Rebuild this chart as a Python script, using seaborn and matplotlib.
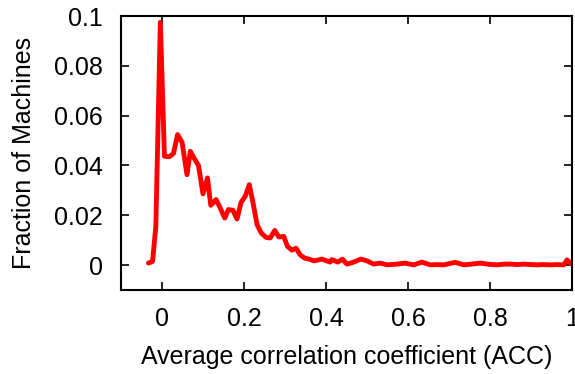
import seaborn as sns
import matplotlib.pyplot as plt
import pandas as pd

# values
acc = [-0.033, -0.023, -0.015, -0.004, 0.006, 0.018, 0.028, 0.038, 0.049, 0.061,
       0.069, 0.079, 0.089, 0.100, 0.111, 0.119, 0.132, 0.142, 0.153, 0.162,
       0.173, 0.183, 0.193, 0.203, 0.213, 0.222, 0.232, 0.242, 0.254, 0.264,
       0.275, 0.285, 0.297, 0.306, 0.317, 0.327, 0.337, 0.348, 0.359, 0.370,
       0.380, 0.390, 0.400, 0.410, 0.414, 0.429, 0.440, 0.451, 0.466, 0.485,
       0.500, 0.516, 0.532, 0.549, 0.573, 0.593, 0.614, 0.634, 0.654, 0.670,
       0.687, 0.715, 0.736, 0.756, 0.776, 0.797, 0.817, 0.835, 0.850, 0.866,
       0.882, 0.900, 0.915, 0.930, 0.947, 0.963, 0.980, 0.988, 0.996]
fraction = [0.0008, 0.0015, 0.0155, 0.0975, 0.0437, 0.0435, 0.0448, 0.0524, 0.0493, 0.0363,
            0.0457, 0.0427, 0.0400, 0.0286, 0.0350, 0.0240, 0.0263, 0.0229, 0.0189, 0.0223,
            0.0220, 0.0185, 0.0252, 0.0276, 0.0323, 0.0250, 0.0162, 0.0129, 0.0111, 0.0109,
            0.0139, 0.0113, 0.0115, 0.0075, 0.0060, 0.0068, 0.0041, 0.0028, 0.0024, 0.0017,
            0.0020, 0.0024, 0.0018, 0.0012, 0.0022, 0.0012, 0.0024, 0.0004, 0.0011, 0.0024,
            0.0017, 0.0004, 0.0008, 0.0001, 0.0004, 0.0008, 0.0001, 0.0012, 0.0001, 0.0002,
            0.0001, 0.0011, 0.0001, 0.0004, 0.0008, 0.0003, 0.0001, 0.0004, 0.0004, 0.0002,
            0.0004, 0.0002, 0.0001, 0.0002, 0.0001, 0.0002, 0.0001, 0.0021, 0.0007]

xticks = [0, 0.2, 0.4, 0.6, 0.8, 1]
xtick_labels = ["0", "0.2", "0.4", "0.6", "0.8", "1"]
yticks = [0, 0.02, 0.04, 0.06, 0.08, 0.1]
ytick_labels = ["0", "0.02", "0.04", "0.06", "0.08", "0.1"]

df = pd.DataFrame({"acc": acc, "fraction": fraction})

sns.set_style("ticks")
plt.rcParams['font.family'] = ['Liberation Sans', 'DejaVu Sans']
plt.rcParams['text.color'] = 'black'

fig = plt.figure(figsize=(5.75, 3.74), dpi=100)
ax = fig.add_axes([0.2104, 0.2246, 0.7844, 0.7326])

sns.lineplot(data=df, x="acc", y="fraction", color="#ff0000", linewidth=3.5, ax=ax)

ax.set_xlim(-0.1, 1)
ax.set_ylim(-0.01, 0.1)
ax.set_xticks(xticks)
ax.set_xticklabels(xtick_labels)
ax.set_yticks(yticks)
ax.set_yticklabels(ytick_labels)
ax.tick_params(direction="in", length=6, width=1.2, top=True, right=True,
               labelsize=18, colors="black")
ax.tick_params(axis="x", pad=12)
ax.tick_params(axis="y", pad=13)
for sp in ax.spines.values():
    sp.set_linewidth(1.5)
    sp.set_color("black")

ax.set_xlabel("Average correlation coefficient (ACC)", fontsize=18, color="black", labelpad=10)
ax.set_ylabel("Fraction of Machines", fontsize=18, color="black", labelpad=13)

fig.savefig("out.png", dpi=100)
